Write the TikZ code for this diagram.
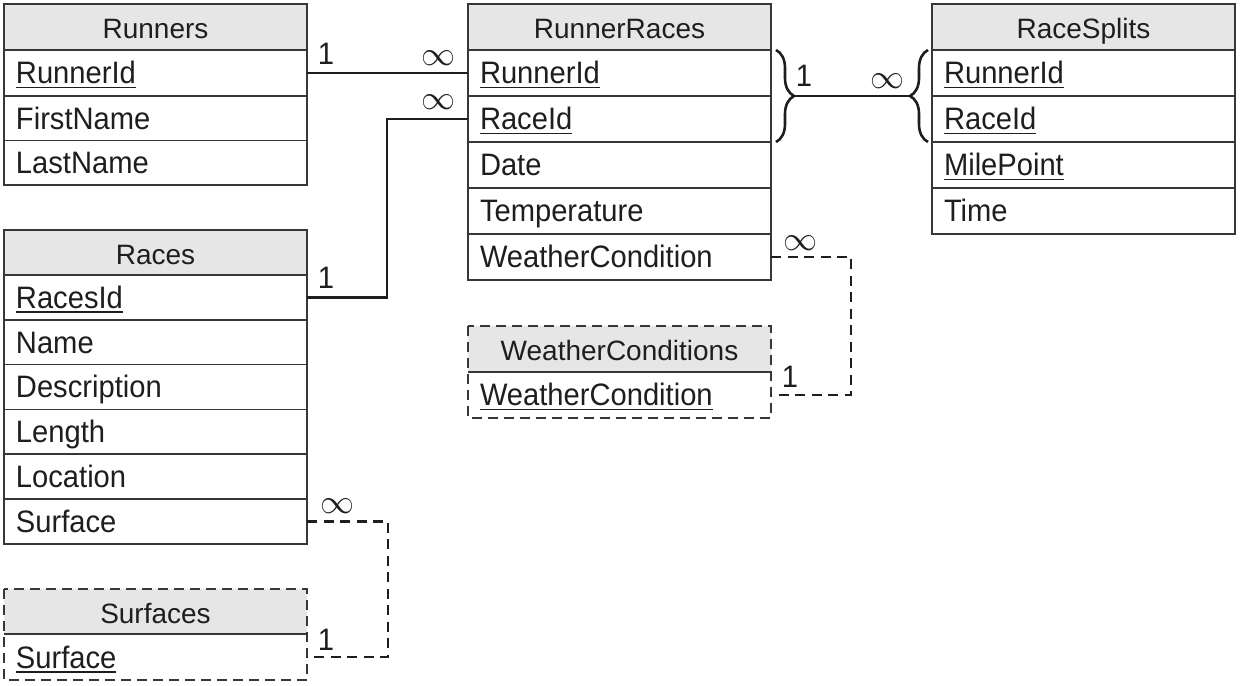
\documentclass[tikz,border=0pt]{standalone}
\usepackage{fontspec}
\usepackage{graphicx}
\setmainfont{Liberation Sans}
\newfontfamily\fieldfam{Liberation Sans}[FakeStretch=0.94]
\usetikzlibrary{positioning,decorations.pathreplacing}

\definecolor{headGray}{RGB}{230,230,230}
\definecolor{boxLine}{RGB}{55,55,55}
\definecolor{linkColor}{RGB}{30,30,30}

\newcommand{\pkey}[1]{\setbox0\hbox{#1}\rlap{\rule[-4.5pt]{\wd0}{1.6pt}}\box0}
\newcommand{\infsign}{\scalebox{3.4}{$\infty$}}

\tikzset{
  tbl/.style={draw=boxLine, line width=1.6pt, minimum width=303pt, inner sep=0pt, outer sep=0pt, text=linkColor},
  head/.style={tbl, fill=headGray, minimum height=46pt, text height=24pt, text depth=0pt, font=\fontsize{28}{32}\selectfont},
  field/.style={tbl, minimum height=46pt, text width=279pt, align=left, text height=22pt, text depth=0pt, font=\fieldfam\fontsize{31}{36}\selectfont},
  dashhead/.style={head, draw=none},
  dashfield/.style={field, draw=none},
  dashframe/.style={draw=boxLine, line width=1.6pt, dash pattern=on 10pt off 6pt},
  link/.style={draw=linkColor, line width=2.8pt},
  dashlink/.style={link, dash pattern=on 10pt off 6.5pt},
  card/.style={text=linkColor, inner sep=0pt, anchor=base, font=\fieldfam\fontsize{31}{36}\selectfont},
  cardinf/.style={text=linkColor, inner sep=0pt},
  bracket/.style={draw=linkColor, line width=2.6pt, decorate, decoration={brace, amplitude=18pt}},
}

\begin{document}
\begin{tikzpicture}[x=1pt,y=1pt]
\path[use as bounding box,fill=white] (0,0) rectangle (1241,685);

\node[head, anchor=north west] (runners) at (4,681) {Runners};
\node[field, below=0pt of runners] (runners-id) {\pkey{RunnerId}};
\node[field, below=0pt of runners-id, minimum height=44.5pt] (runners-first) {FirstName};
\node[field, below=0pt of runners-first, minimum height=44.5pt] (runners-last) {LastName};

\node[head, anchor=north west] (rr) at (468,681) {RunnerRaces};
\node[field, below=0pt of rr] (rr-runner) {\pkey{RunnerId}};
\node[field, below=0pt of rr-runner] (rr-race) {\pkey{RaceId}};
\node[field, below=0pt of rr-race] (rr-date) {Date};
\node[field, below=0pt of rr-date] (rr-temp) {Temperature};
\node[field, below=0pt of rr-temp] (rr-weather) {WeatherCondition};

\node[head, anchor=north west] (rs) at (932,681) {RaceSplits};
\node[field, below=0pt of rs] (rs-runner) {\pkey{RunnerId}};
\node[field, below=0pt of rs-runner] (rs-race) {\pkey{RaceId}};
\node[field, below=0pt of rs-race] (rs-mile) {\pkey{MilePoint}};
\node[field, below=0pt of rs-mile] (rs-time) {Time};

\node[head, anchor=north west, minimum height=45pt] (races) at (4,455) {Races};
\node[field, below=0pt of races, minimum height=44.8pt] (races-id) {\pkey{RacesId}};
\node[field, below=0pt of races-id, minimum height=44.8pt] (races-name) {Name};
\node[field, below=0pt of races-name, minimum height=44.8pt] (races-desc) {Description};
\node[field, below=0pt of races-desc, minimum height=44.8pt] (races-length) {Length};
\node[field, below=0pt of races-length, minimum height=44.8pt] (races-loc) {Location};
\node[field, below=0pt of races-loc, minimum height=44.8pt] (races-surface) {Surface};

\node[dashhead, anchor=north west] (wc) at (468,359) {WeatherConditions};
\node[dashfield, below=0pt of wc] (wc-cond) {\pkey{WeatherCondition}};
\draw[dashframe] (wc.north west) rectangle (wc-cond.south east);
\draw[draw=boxLine, line width=1.6pt] (wc.south west) -- (wc.south east);

\node[dashhead, anchor=north west, minimum height=45pt] (surf) at (4,96) {Surfaces};
\node[dashfield, below=0pt of surf] (surf-row) {\pkey{Surface}};
\draw[dashframe] (surf.north west) rectangle (surf-row.south east);
\draw[draw=boxLine, line width=1.6pt] (surf.south west) -- (surf.south east);

\draw[link] (runners-id.east) -- (rr-runner.west);
\node[card] at ([xshift=19pt,yshift=8pt]runners-id.east) {1};
\node[cardinf] at ([xshift=-30pt,yshift=15pt]rr-runner.west) {\infsign};

\draw[link] (races-id.east) -- ++(80,0) |- (rr-race.west);
\node[card] at ([xshift=19pt,yshift=9pt]races-id.east) {1};
\node[cardinf] at ([xshift=-30pt,yshift=17pt]rr-race.west) {\infsign};

\draw[bracket] ([xshift=5pt]rr-runner.north east) -- ([xshift=5pt]rr-race.south east);
\draw[bracket] ([xshift=-4pt]rs-race.south west) -- ([xshift=-4pt]rs-runner.north west);
\coordinate (rrtip) at ([xshift=23pt]rr-runner.south east);
\coordinate (rstip) at ([xshift=-22pt]rs-runner.south west);
\draw[link] (rrtip) -- (rstip);
\node[card] at ([xshift=10pt,yshift=9pt]rrtip) {1};
\node[cardinf] at ([xshift=-23pt,yshift=15pt]rstip) {\infsign};

\draw[dashlink] (rr-weather.east) -- ++(80,0) |- (wc-cond.east);
\node[cardinf] at ([xshift=29pt,yshift=14pt]rr-weather.east) {\infsign};
\node[card] at ([xshift=19pt,yshift=7pt]wc-cond.east) {1};

\draw[dashlink] (races-surface.east) -- ++(81,0) |- (surf-row.east);
\node[cardinf] at ([xshift=30pt,yshift=15pt]races-surface.east) {\infsign};
\node[card] at ([xshift=19pt,yshift=7pt]surf-row.east) {1};
\end{tikzpicture}
\end{document}
